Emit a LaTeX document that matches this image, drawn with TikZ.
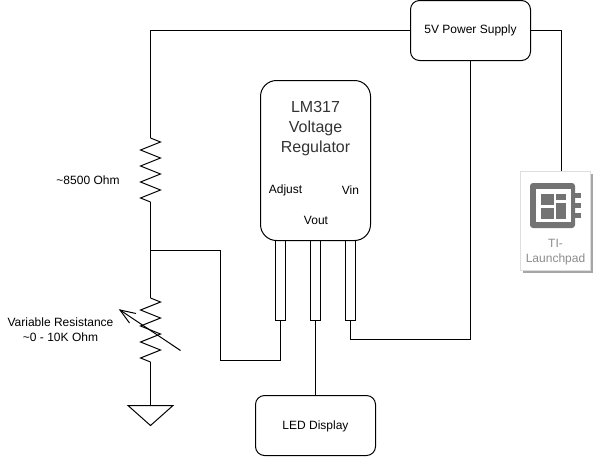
\documentclass[tikz,border=0pt]{standalone}
\usepackage{fontspec}
\setmainfont{Liberation Sans}
\usetikzlibrary{shadows}
\definecolor{chipgray}{HTML}{737373}
\newcommand{\zigzag}{-- ++(10,4) -- ++(-20,8) -- ++(20,8) -- ++(-20,8) -- ++(20,8) -- ++(-20,8) -- ++(20,8) -- ++(-20,8) -- ++(10,4)}
\begin{document}
\begin{tikzpicture}[x=1pt, y=-1pt, line width=1pt,
  every node/.style={font=\fontsize{12}{15}\selectfont, align=center, inner sep=0pt, outer sep=0pt},
  box/.style={draw, rounded corners=9pt, minimum width=120pt, minimum height=60pt},
  regbox/.style={draw, rounded corners=16pt, minimum width=110pt, minimum height=160pt},
  pinbox/.style={draw, minimum width=10pt, minimum height=80pt}]
\useasboundingbox (0,0) rectangle (593,456);
% boxes
\node[box] (supply) at (470.5,30.5) {5V Power Supply};
\node[box] (display) at (315.5,425.5) {};
\node (ldisplay) at (315.5,426) {LED Display};
\node[regbox] (regulator) at (315.5,160.5) {};
\node[pinbox] (padjust) at (280.5,280.5) {};
\node[pinbox] (pout) at (315.5,280.5) {};
\node[pinbox] (pin) at (350.5,280.5) {};
\node[fill=white, draw=black!13, line width=0.75pt, minimum width=70pt, minimum height=99pt,
  drop shadow={shadow xshift=2.5pt, shadow yshift=-2.5pt, opacity=0.35, fill=black}] (launchpad) at (555.5,220.5) {};
% text
\node[font=\fontsize{16}{20}\selectfont, text=black!80] (regname) at (315.5,128.5) {LM317\\Voltage\\Regulator};
\node (ladjust) at (285.5,190) {Adjust};
\node (lvin) at (350.5,190) {Vin};
\node (lvout) at (316,220) {Vout};
\node (lfixed) at (88,180) {\textasciitilde8500 Ohm};
\node (lvar) at (60.5,330) {Variable Resistance\\\textasciitilde0 - 10K Ohm};
\node[text=black!45] (lpad) at (555.5,252) {TI-\\Launchpad};
% chip icon
\fill[chipgray, rounded corners=3pt] (530,183) rectangle (575,228);
\fill[white] (536,188.5) rectangle (570.5,222);
\foreach \y in {193,203,213} \fill[chipgray] (575,\y) rectangle (581,\y+5);
\fill[chipgray] (541,193.5) rectangle (553.5,205);
\fill[chipgray] (556,193.5) rectangle (566,200);
\fill[chipgray] (541,207.5) rectangle (553.5,218.5);
\fill[chipgray] (556,202.5) rectangle (566,218.5);
% resistors
\coordinate (fixedtop) at (150.5,138);
\coordinate (fixedbot) at (150.5,202);
\coordinate (vartop) at (150.5,298);
\coordinate (varbot) at (150.5,362);
\coordinate (gnd) at (150.5,405.5);
\coordinate (tap) at (150.5,250.5);
\coordinate (padtop) at (561,171);
\coordinate (vartip) at (120,310);
\draw (fixedtop) \zigzag;
\draw (vartop) \zigzag;
\draw (180.5,350.5) -- (vartip);
\draw[line join=miter] (136,313.5) -- (vartip) -- (129.5,323);
\draw[line join=miter] (128,405.5) -- (173,405.5) -- (150.5,425.5) -- cycle;
% wires
\draw (supply.west) -| (fixedtop);
\draw (fixedbot) -- (vartop);
\draw (varbot) -- (gnd);
\draw (supply.east) -| (padtop);
\draw (supply.south) |- (350.5,339.5) -- (pin.south);
\draw (padjust.south) |- (220.5,360.5) |- (tap);
\draw (pout.south) -- (display.north);
\end{tikzpicture}
\end{document}
